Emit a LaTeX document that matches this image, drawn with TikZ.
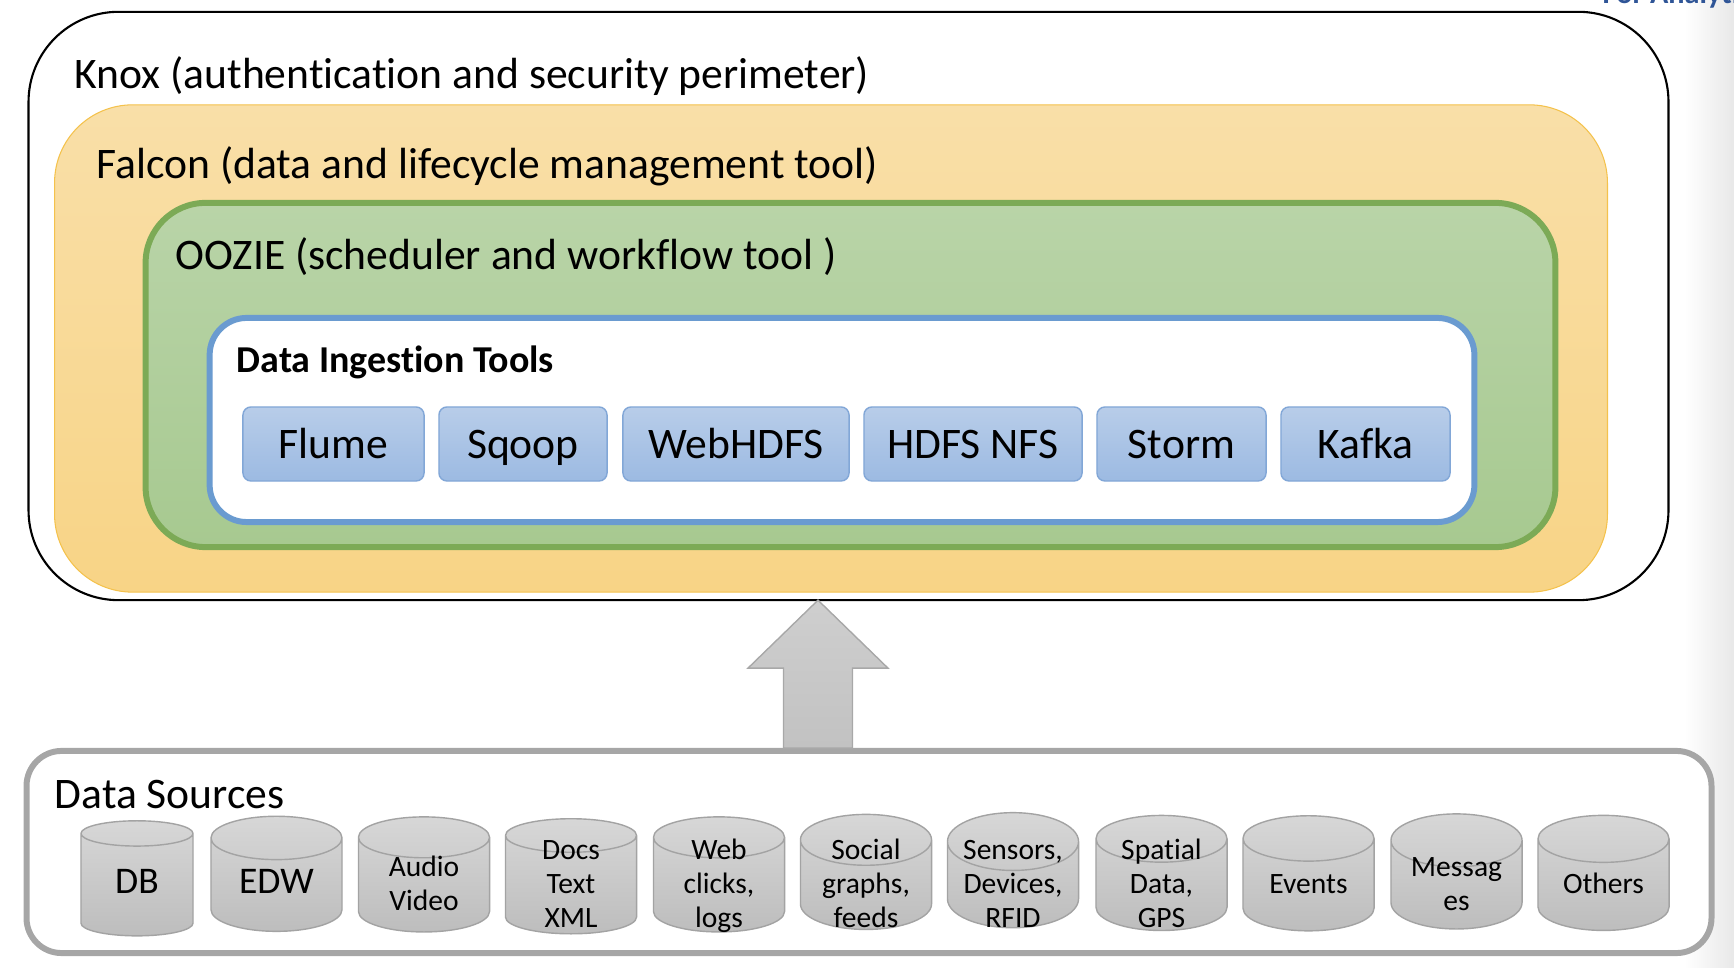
\documentclass[tikz,border=0pt]{standalone}
\usepackage{fontspec}
\setmainfont[Ligatures=NoCommon]{Carlito}
\usetikzlibrary{shapes,arrows}
\usetikzlibrary{calc}
\definecolor{falcontop}{RGB}{249,223,168}
\definecolor{falconbot}{RGB}{248,212,134}
\definecolor{falconline}{RGB}{244,194,76}
\definecolor{oozietop}{RGB}{185,212,168}
\definecolor{ooziebot}{RGB}{167,201,144}
\definecolor{oozieline}{RGB}{124,170,86}
\definecolor{ingestline}{RGB}{106,155,208}
\definecolor{tooltop}{RGB}{184,205,233}
\definecolor{toolbot}{RGB}{156,186,226}
\definecolor{toolline}{RGB}{130,167,215}
\definecolor{srcline}{RGB}{166,166,166}
\definecolor{cyltop}{RGB}{215,215,215}
\definecolor{cylbot}{RGB}{189,189,189}
\definecolor{cylline}{RGB}{163,163,163}
\definecolor{slideblue}{RGB}{47,85,151}

\begin{document}
\begin{tikzpicture}[x=0.01cm,y=-0.01cm]

\tikzstyle{frame} = [draw, rectangle, inner sep=0, outer sep=0]
\tikzstyle{knox_box} = [frame, line width=0.6pt, draw=black, rounded corners=0.9cm]
\tikzstyle{falcon_box} = [frame, line width=0.3pt, draw=falconline, top color=falcontop, bottom color=falconbot, rounded corners=0.78cm]
\tikzstyle{oozie_box} = [frame, line width=1.7pt, draw=oozieline, top color=oozietop, bottom color=ooziebot, rounded corners=0.6cm]
\tikzstyle{ingest_box} = [frame, line width=1.7pt, draw=ingestline, fill=white, rounded corners=0.37cm]
\tikzstyle{src_box} = [frame, line width=1.7pt, draw=srcline, fill=white, rounded corners=0.35cm]
\tikzstyle{tool_block} = [frame, line width=0.4pt, draw=toolline, top color=tooltop, bottom color=toolbot, rounded corners=0.08cm,
minimum height=0.74cm, text height=0.8em, text depth=0pt, font=\fontsize{12.4}{14}\selectfont]
\tikzstyle{cyl_block} = [draw=cylline, line width=0.4pt, cylinder, shape border rotate=90, aspect=0.58, inner sep=0,
minimum width=1.31cm, minimum height=1.15cm, text height=0.5em, text depth=0pt,
top color=cyltop, bottom color=cylbot, font=\fontsize{8.4}{9.7}\selectfont]
\tikzstyle{big_cyl} = [cyl_block, font=\fontsize{10.7}{12}\selectfont]
\tikzstyle{title_text} = [anchor=base west, inner sep=0, font=\fontsize{12.4}{14}\selectfont]
\tikzstyle{ingest_text} = [anchor=base west, inner sep=0, font=\fontsize{10.8}{12}\selectfont\bfseries]

\useasboundingbox (0,0) rectangle (1734,968);
\shade[left color=white, right color=black!9] (1684,0) rectangle (1734,968);
\node[anchor=base west, inner sep=0, text=slideblue, font=\fontsize{8.6}{10}\selectfont\bfseries] (slide_title) at (1602,4) {For Analytics};

% nested layers
\node[knox_box, minimum width=16.39cm, minimum height=5.88cm] (knox) at (848.5,306) {};
\node[falcon_box, minimum width=15.52cm, minimum height=4.87cm] (falcon) at (831,348.5) {};
\node[oozie_box, minimum width=14.09cm, minimum height=3.44cm] (oozie) at (850.5,375) {};
\node[ingest_box, minimum width=12.64cm, minimum height=2.04cm] (ingest) at (842,420) {};

\node[title_text] (knox_label) at (74,89) {Knox (authentication and security perimeter)};
\node[title_text] (falcon_label) at (96,179) {Falcon (data and lifecycle management tool)};
\node[title_text] (oozie_label) at (175,270) {OOZIE (scheduler and workflow tool )};
\node[ingest_text] (ingest_label) at (236,373) {Data Ingestion Tools};

\node[tool_block, minimum width=1.81cm] (flume) at (333.5,444) {Flume};
\node[tool_block, minimum width=1.68cm] (sqoop) at (523,444) {Sqoop};
\node[tool_block, minimum width=2.26cm] (webhdfs) at (736,444) {WebHDFS};
\node[tool_block, minimum width=2.18cm] (hdfsnfs) at (973,444) {HDFS NFS};
\node[tool_block, minimum width=1.69cm] (storm) at (1181.5,444) {Storm};
\node[tool_block, minimum width=1.69cm] (kafka) at (1365.5,444) {Kafka};

% sources
\node[src_box, minimum width=16.84cm, minimum height=2.02cm] (src) at (869,852) {};
\node[title_text] (src_label) at (54,809) {Data Sources};

\node[big_cyl, minimum width=1.12cm] (db) at (137,885) {DB};
\node[big_cyl] (edw) at (276.5,885) {EDW};
\node[cyl_block] (av) at (424,885) {\begin{tabular}{@{}c@{}} Audio\\ Video\end{tabular}};
\node[cyl_block] (docs) at (571,885) {\begin{tabular}{@{}c@{}} Docs\\ Text\\ XML\end{tabular}};
\node[cyl_block] (web) at (719,885) {\begin{tabular}{@{}c@{}} Web\\ clicks,\\ logs\end{tabular}};
\node[cyl_block] (social) at (866,885) {\begin{tabular}{@{}c@{}} Social\\ graphs,\\ feeds\end{tabular}};
\node[cyl_block] (sensors) at (1013,885) {\begin{tabular}{@{}c@{}} Sensors,\\ Devices,\\ RFID\end{tabular}};
\node[cyl_block] (spatial) at (1161.5,885) {\begin{tabular}{@{}c@{}} Spatial\\ Data,\\ GPS\end{tabular}};
\node[cyl_block] (events) at (1308.5,885) {Events};
\node[cyl_block] (msg) at (1456.5,885) {\begin{tabular}{@{}c@{}} Messag\\ es\end{tabular}};
\node[cyl_block] (others) at (1603.5,885) {Others};

% arrow up
\tikzstyle{src_arrow} = [draw=black!34, line width=0.4pt, top color=black!19, bottom color=black!24]
\coordinate (tip) at ([xshift=-0.305cm]knox.south);
\filldraw[src_arrow] (tip) -- ++(70,68) -- ++(-35.5,0) -- ++(0,80) -- ++(-69,0) -- ++(0,-80) -- ++(-35.5,0) -- cycle;

\end{tikzpicture}
\end{document}
